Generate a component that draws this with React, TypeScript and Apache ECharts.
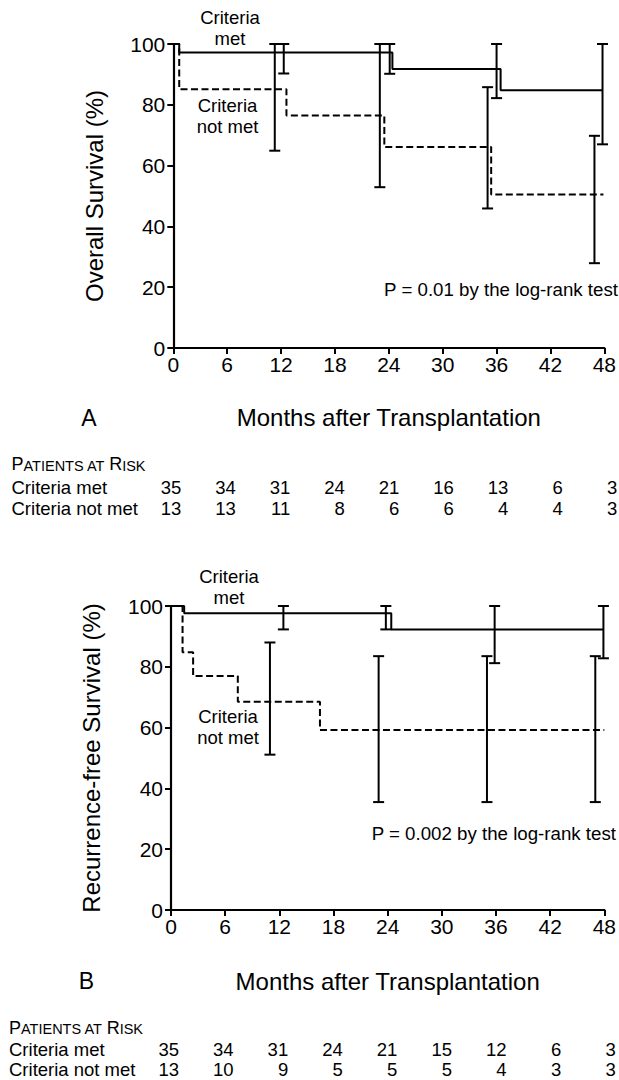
import React, { useEffect, useRef } from "react";
import * as echarts from "echarts";

const FONT = '"Liberation Sans", Arial, Helvetica, sans-serif';

// Panel A – overall survival (Kaplan–Meier steps, % surviving)
const osMetTimes = [0, 0.66, 24.4, 36.45, 47.8];
const osMetValues = [100, 97.2, 91.8, 84.8, 84.8];
const osNotMetTimes = [0, 0.66, 12.6, 23.5, 35.4, 47.9];
const osNotMetValues = [100, 85.1, 76.5, 66.1, 50.5, 50.5];
// 95% CI bars
const osMetCiMonths = [12.3, 24.1, 36.0, 47.8];
const osMetCiLow = [90.3, 90.2, 82.2, 67.0];
const osMetCiHigh = [100, 100, 100, 100];
const osNotMetCiMonths = [11.3, 23.0, 35.0, 46.9];
const osNotMetCiLow = [64.9, 52.9, 45.9, 27.9];
const osNotMetCiHigh = [100, 100, 85.8, 69.8];

// Panel B – recurrence-free survival
const rfsMetTimes = [0, 1.46, 24.4, 47.9];
const rfsMetValues = [100, 97.6, 92.3, 92.3];
const rfsNotMetTimes = [0, 1.28, 2.45, 7.4, 16.5, 48];
const rfsNotMetValues = [100, 84.8, 77.0, 68.5, 59.2, 59.2];
const rfsMetCiMonths = [12.45, 23.8, 35.85, 47.9];
const rfsMetCiLow = [92.3, 92.3, 81.2, 82.8];
const rfsMetCiHigh = [100, 100, 100, 100];
const rfsNotMetCiMonths = [10.96, 23.0, 35.0, 47.0];
const rfsNotMetCiLow = [51.1, 35.5, 35.5, 35.5];
const rfsNotMetCiHigh = [88.0, 83.5, 83.5, 83.5];

// Patients at risk
const riskMonths = [0, 6, 12, 18, 24, 30, 36, 42, 48];
const riskRows = ["Criteria met", "Criteria not met"];
const osRiskMet = [35, 34, 31, 24, 21, 16, 13, 6, 3];
const osRiskNotMet = [13, 13, 11, 8, 6, 6, 4, 4, 3];
const rfsRiskMet = [35, 34, 31, 24, 21, 15, 12, 6, 3];
const rfsRiskNotMet = [13, 10, 9, 5, 5, 5, 4, 3, 3];

const xTicks = { min: 0, max: 48, interval: 6 };
const yTicks = { min: 0, max: 100, interval: 20 };

const zip = (a: number[], b: number[]) => a.map((v, i) => [v, b[i]]);
const zip3 = (a: number[], b: number[], c: number[]) => a.map((v, i) => [v, b[i], c[i]]);

function errorBarRender(params: any, api: any) {
  const x = api.value(0);
  const lo = api.value(1);
  const hi = api.value(2);
  const top = api.coord([x, hi]);
  const bot = api.coord([x, lo]);
  const w = 5.5;
  const st = { stroke: "#000", lineWidth: 2 };
  return {
    type: "group",
    children: [
      { type: "line", shape: { x1: top[0], y1: top[1], x2: bot[0], y2: bot[1] }, style: st },
      { type: "line", shape: { x1: top[0] - w, y1: top[1], x2: top[0] + w, y2: top[1] }, style: st },
      { type: "line", shape: { x1: bot[0] - w, y1: bot[1], x2: bot[0] + w, y2: bot[1] }, style: st },
    ],
  };
}

function riskRender(params: any, api: any) {
  const m = api.value(0);
  const row = api.value(1);
  const n = api.value(2);
  const p = api.coord([m, row]);
  return {
    type: "text",
    x: p[0] + 8,
    y: p[1],
    style: {
      text: String(n),
      fill: "#000",
      font: `18.5px ${FONT}`,
      align: "right",
      verticalAlign: "middle",
    },
  };
}

function valueXAxis(gridIndex: number, nameGap: number) {
  return {
    gridIndex,
    type: "value",
    ...xTicks,
    axisLine: { lineStyle: { color: "#000", width: 2.2 } },
    axisTick: { length: 6, lineStyle: { color: "#000", width: 2 } },
    axisLabel: { fontSize: 21, color: "#000", margin: 6, fontFamily: FONT },
    splitLine: { show: false },
    name: "Months after Transplantation",
    nameLocation: "middle",
    nameGap,
    nameTextStyle: { fontSize: 24, color: "#000", fontFamily: FONT },
  };
}

function valueYAxis(gridIndex: number, name: string, nameGap: number) {
  return {
    gridIndex,
    type: "value",
    ...yTicks,
    axisLine: { show: true, lineStyle: { color: "#000", width: 2.2 } },
    axisTick: { show: true, length: 6, lineStyle: { color: "#000", width: 2 } },
    axisLabel: { fontSize: 21, color: "#000", margin: 8, fontFamily: FONT },
    splitLine: { show: false },
    name,
    nameLocation: "middle",
    nameRotate: 90,
    nameGap,
    nameTextStyle: { fontSize: 24, color: "#000", fontFamily: FONT },
  };
}

function riskXAxis(gridIndex: number) {
  return { gridIndex, type: "value", ...xTicks, show: false };
}

function riskYAxis(gridIndex: number, margin: number) {
  return {
    gridIndex,
    type: "category",
    data: riskRows,
    inverse: true,
    axisLine: { show: false },
    axisTick: { show: false },
    splitLine: { show: false },
    axisLabel: {
      interval: 0,
      align: "left",
      margin,
      fontSize: 18.5,
      color: "#000",
      fontFamily: FONT,
      hideOverlap: false,
    },
  };
}

function stepSeries(xi: number, times: number[], values: number[], dashed: boolean) {
  return {
    type: "line",
    xAxisIndex: xi,
    yAxisIndex: xi,
    step: "end",
    showSymbol: false,
    data: zip(times, values),
    lineStyle: dashed
      ? { color: "#000", width: 2, type: [7, 3.5] }
      : { color: "#000", width: 2 },
    z: 3,
  };
}

function ciSeries(xi: number, m: number[], lo: number[], hi: number[]) {
  return {
    type: "custom",
    xAxisIndex: xi,
    yAxisIndex: xi,
    renderItem: errorBarRender,
    encode: { x: 0, y: [1, 2] },
    data: zip3(m, lo, hi),
    z: 4,
  };
}

function riskSeries(xi: number, rowIndex: number, counts: number[]) {
  return {
    type: "custom",
    xAxisIndex: xi,
    yAxisIndex: xi,
    renderItem: riskRender,
    encode: { x: 0, y: 1 },
    data: riskMonths.map((m, i) => [m, rowIndex, counts[i]]),
  };
}

function txt(x: number, y: number, text: string, size: number, align = "center", lineHeight?: number) {
  return {
    type: "text",
    x,
    y,
    style: {
      text,
      fill: "#000",
      font: `${size}px ${FONT}`,
      align,
      verticalAlign: "middle",
      lineHeight: lineHeight ?? size * 1.15,
    },
  };
}

function riskHeader(x: number, y: number) {
  return {
    type: "text",
    x,
    y,
    style: {
      text: "{a|P}{b|ATIENTS AT }{a|R}{b|ISK}",
      fill: "#000",
      align: "left",
      verticalAlign: "middle",
      rich: {
        a: { fontSize: 18, fontFamily: FONT, fill: "#000", verticalAlign: "bottom", lineHeight: 20 },
        b: { fontSize: 14.5, fontFamily: FONT, fill: "#000", verticalAlign: "bottom", lineHeight: 20 },
      },
    },
  };
}

export default function App() {
  const ref = useRef<HTMLDivElement>(null);
  useEffect(() => {
    if (!ref.current) return;
    const chart = echarts.init(ref.current, null, { renderer: "svg" });
    chart.setOption({
      animation: false,
      backgroundColor: "#fff",
      textStyle: { fontFamily: FONT },
      grid: [
        { left: 173.3, top: 44, width: 436, height: 304 },
        { left: 171, top: 606, width: 436.8, height: 304 },
        { left: 173.3, top: 476.8, width: 436, height: 42 },
        { left: 171, top: 1039, width: 436.8, height: 44 },
      ],
      xAxis: [valueXAxis(0, 57), valueXAxis(1, 59), riskXAxis(2), riskXAxis(3)],
      yAxis: [
        valueYAxis(0, "Overall Survival (%)", 67),
        valueYAxis(1, "Recurrence-free Survival (%)", 68),
        riskYAxis(2, 173.3 - 11.5),
        riskYAxis(3, 171 - 9),
      ],
      series: [
        stepSeries(0, osMetTimes, osMetValues, false),
        stepSeries(0, osNotMetTimes, osNotMetValues, true),
        ciSeries(0, osMetCiMonths, osMetCiLow, osMetCiHigh),
        ciSeries(0, osNotMetCiMonths, osNotMetCiLow, osNotMetCiHigh),
        stepSeries(1, rfsMetTimes, rfsMetValues, false),
        stepSeries(1, rfsNotMetTimes, rfsNotMetValues, true),
        ciSeries(1, rfsMetCiMonths, rfsMetCiLow, rfsMetCiHigh),
        ciSeries(1, rfsNotMetCiMonths, rfsNotMetCiLow, rfsNotMetCiHigh),
        riskSeries(2, 0, osRiskMet),
        riskSeries(2, 1, osRiskNotMet),
        riskSeries(3, 0, rfsRiskMet),
        riskSeries(3, 1, rfsRiskNotMet),
      ],
      graphic: [
        txt(230, 28, "Criteria\nmet", 18.5, "center", 21),
        txt(227.5, 116, "Criteria\nnot met", 18.5, "center", 21.5),
        txt(618, 289.5, "P = 0.01 by the log-rank test", 18.7, "right"),
        txt(89, 418, "A", 23),
        riskHeader(11.5, 463.3),
        txt(229, 587, "Criteria\nmet", 18.5, "center", 21),
        txt(228, 727.3, "Criteria\nnot met", 18.5, "center", 21),
        txt(616, 833.5, "P = 0.002 by the log-rank test", 18.7, "right"),
        txt(86.5, 981, "B", 23),
        riskHeader(9, 1026.7),
      ],
    });
    return () => chart.dispose();
  }, []);
  return (
    <div
      ref={ref}
      style={{ position: "absolute", left: 0, top: 0, width: 619, height: 1080, background: "#fff" }}
    />
  );
}
